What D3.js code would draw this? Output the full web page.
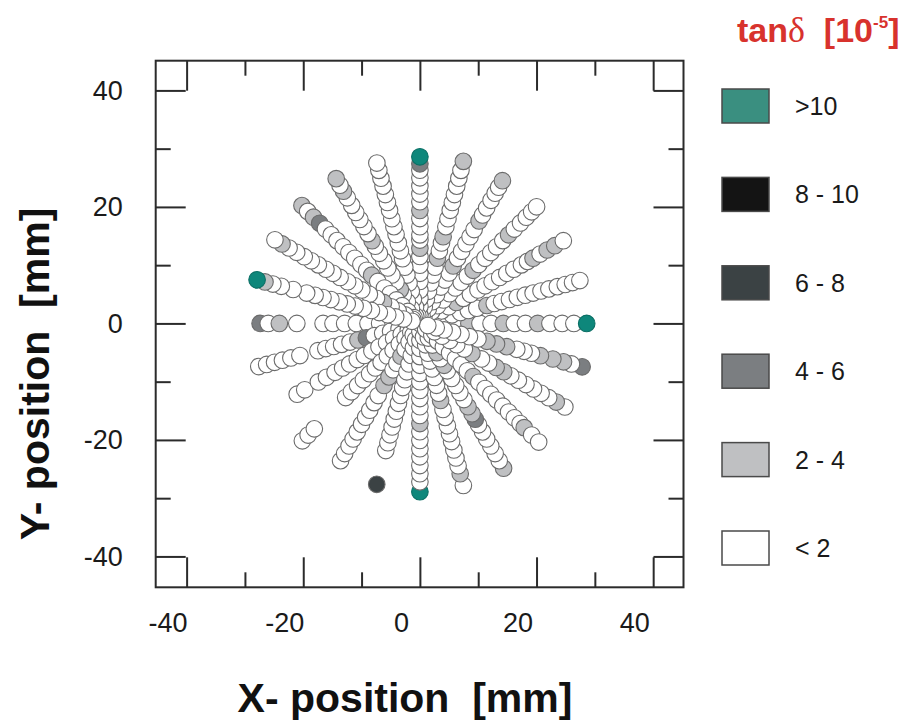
<!DOCTYPE html>
<html>
<head>
<meta charset="utf-8">
<script src="https://cdn.jsdelivr.net/npm/d3@7"></script>
<style>
  body { margin: 0; background: #fff; }
  svg { display: block; font-family: "Liberation Sans", Arial, sans-serif; }
</style>
</head>
<body>
<div id="chart"></div>
<script>
// scan lines through the centre: direction angle (deg) and positions along the line (mm)
const lineAngles = [0, 15, 30, 45, 60, 75, 90, 105, 120, 135, 150, 165];

const linePositions = [
  [-27.4, -26.0, -24.1, -21.1, -16.6, -14.9, -12.9, -10.9, -8.9, -6.9, -4.6, -2.3, 0.3, 2.2, 4.1, 6.2, 8.4, 10.3, 12.2, 14.3, 16.2, 18.1, 20.2, 22.3, 24.4, 26.4, 28.6],
  [-28.6, -27.2, -25.8, -24.4, -22.9, -21.3, -18.1, -16.7, -15.3, -13.9, -12.4, -11.0, -9.5, -8.1, -6.6, -5.2, -3.7, -2.3,
    1.4, 2.9, 4.3, 5.7, 7.2, 8.6, 10.1, 11.9, 13.2, 14.5, 15.9, 17.3, 18.7, 20.1, 21.5, 22.9, 24.4, 25.8, 27.1, 28.4],
  [-24.3, -22.8, -20.1, -18.5, -16.8, -15.3, -13.9, -12.4, -11.0, -9.5, -8.1, -6.6, -5.2, -3.7, -2.3,
    1.4, 2.9, 4.3, 5.7, 7.2, 8.6, 10.0, 11.5, 12.9, 14.3, 15.8, 17.2, 18.6, 20.1, 21.3, 22.4, 23.8, 25.2, 26.7, 28.4],
  [-28.5, -27.1, -25.6, -18.0, -16.6, -15.1, -13.7, -12.2, -10.8, -9.4, -7.9, -6.5, -5.0, -3.6, -2.2,
    1.4, 2.9, 4.3, 5.7, 7.2, 8.6, 10.0, 11.5, 12.9, 14.3, 15.8, 17.2, 18.6, 20.1, 21.5, 22.9, 24.4, 25.8, 27.1, 28.3],
  [-27.2, -25.8, -24.3, -22.9, -21.5, -20.0, -18.6, -17.2, -15.7, -14.3, -12.3, -10.6, -9.2, -7.9, -6.5, -5.1, -3.7, -2.3,
    1.4, 2.9, 4.3, 5.7, 7.2, 8.6, 10.0, 11.4, 12.9, 14.3, 15.8, 17.2, 18.6, 20.3, 21.5, 22.9, 24.4, 25.8, 27.0, 28.3],
  [-28.6, -22.6, -21.2, -19.8, -18.4, -17.0, -15.6, -14.2, -12.8, -11.4, -10.0, -8.6, -7.2, -5.7, -4.3, -2.9,
    1.4, 2.9, 4.3, 5.7, 7.2, 8.6, 10.0, 11.6, 12.9, 14.3, 15.4, 17.2, 18.6, 20.1, 21.5, 22.9, 24.4, 25.8, 27.2, 28.8],
  [-28.9, -27.2, -25.8, -24.4, -22.9, -21.5, -20.1, -18.6, -17.2, -15.8, -14.3, -12.9, -11.5, -10.0, -8.6, -7.2, -5.7, -4.3, -2.9, -1.4,
    0.0, 1.4, 2.9, 4.3, 5.7, 7.2, 8.6, 10.0, 11.5, 12.9, 14.3, 15.2, 16.6, 18.0, 19.4, 20.9, 22.2, 23.6, 25.0, 26.3, 27.4, 28.6],
  [-28.8, -26.7, -25.3, -23.9, -22.5, -21.0, -19.6, -18.2, -16.7, -15.3, -13.7, -12.4, -11.0, -9.6, -8.1, -6.7, -5.3, -3.8, -2.4,
    1.4, 2.9, 4.3, 5.7, 7.2, 8.6, 10.0, 11.5, 12.9, 14.3, 15.8, 17.2, 18.6, 20.1, 21.5, 22.9, 24.4, 25.8, 27.2, 28.5],
  [-28.7, -27.2, -25.8, -24.3, -22.9, -21.5, -20.1, -19.0, -17.9, -16.5, -15.1, -13.7, -12.3, -10.9, -9.4, -8.3, -7.0, -5.8, -4.3, -2.9,
    1.4, 2.9, 4.3, 5.7, 6.7, 8.2, 9.6, 11.0, 12.4, 13.9, 15.3, 16.4, 17.8, 19.2, 20.6, 22.0, 23.4, 24.9, 26.2, 27.4, 28.7],
  [28.6, 27.2, 25.8, 24.3, 22.9, 21.5, 20.1, 18.6, 17.2, 15.8, 14.3, 12.9, 11.7, 10.2, 8.6, 7.2, 5.7, 4.3, 2.9, 1.4,
    -1.4, -2.9, -4.3, -5.7, -7.2, -8.6, -10.0, -11.5, -12.9, -14.3, -15.8, -17.2, -18.6, -20.1, -21.5, -22.9, -24.3, -25.3, -27.1, -28.8],
  [-28.7, -27.0, -25.5, -24.0, -22.5, -21.0, -19.5, -18.0, -16.6, -15.1, -13.6, -12.2, -10.3, -8.8, -7.3, -5.9, -4.4, -2.9,
    1.4, 2.9, 4.3, 5.7, 7.2, 8.6, 10.0, 11.5, 12.9, 14.3, 15.8, 17.2, 18.6, 20.1, 21.5, 22.9, 24.4, 25.9, 27.3, 28.7],
  [-28.8, -26.9, -25.5, -23.6, -21.4, -19.8, -18.5, -17.2, -15.4, -13.6, -11.9, -10.3, -8.8, -7.3, -5.8, -4.3, -2.9, -1.4,
    1.4, 2.9, 4.3, 5.7, 7.2, 8.6, 10.0, 11.5, 12.9, 14.3, 15.8, 17.2, 18.6, 20.1, 22.5, 24.6, 26.1, 27.5, 28.9]
];

// tan delta class of each point: 0 "< 2", 1 "2 - 4", 2 "4 - 6", 3 "6 - 8", 4 "8 - 10", 5 ">10"
const lineClasses = [
  "201000000000000010010010005",
  "000000000001200000" + "00000001000000000000",
  "000000000000000" + "00001000000000010110",
  "000000000000000" + "00000000100000100000",
  "000000000011001000" + "00000001000001000001",
  "3000000000000000" + "00000001001000000001",
  "50000000100000000000" + "0000000001000010000025",
  "0100000000100000000" + "00000000000000000000",
  "10000002110000010100" + "000010000001000000101",
  "10120000000010000000" + "00000000100000000100",
  "010000001100100000" + "00001000000000000010",
  "201110001110000000" + "0000000000000000015"
];

const classLabels = ["< 2", "2 - 4", "4 - 6", "6 - 8", "8 - 10", ">10"];
const xTicks = [-40, -20, 0, 20, 40];
const xMinor = [-30, -10, 10, 30];
const yTicks = [-40, -20, 0, 20, 40];
const yMinor = [-30, -10, 10, 30];

const width = 907;
const height = 724;

const points = [];
lineAngles.forEach((a, i) => {
  const t = a * Math.PI / 180;
  linePositions[i].forEach((s, j) => {
    points.push({ x: s * Math.cos(t), y: s * Math.sin(t), c: +(lineClasses[i][j] || 0) });
  });
});

const svg = d3.select('#chart')
  .append('svg')
  .attr('width', width)
  .attr('height', height);

const x = d3.scaleLinear().domain([-45.3, 45.2]).range([155.7, 683.5]);
const y = d3.scaleLinear().domain([-45.3, 45.1]).range([587.3, 60.7]);

const color = d3.scaleOrdinal()
  .domain(d3.range(classLabels.length))
  .range(['#ffffff', '#bfc0c2', '#7b7e81', '#3b4244', '#141414', '#0e877b']);

// points
svg.append('g')
  .selectAll('circle')
  .data(points)
  .join('circle')
    .attr('cx', d => x(d.x))
    .attr('cy', d => y(d.y))
    .attr('r', 8.3)
    .attr('fill', d => color(d.c))
    .attr('stroke', d => d.c === 5 ? '#0b6f65' : '#6b6b6b')
    .attr('stroke-width', 1.1);

// frame and inward ticks
const x0 = x.range()[0], x1 = x.range()[1];
const y0 = y.range()[0], y1 = y.range()[1];

function ticks(axis, vals, size, tx, ty) {
  svg.append('g')
    .attr('transform', `translate(${tx},${ty})`)
    .call(axis.tickValues(vals).tickSizeInner(-size).tickSizeOuter(0).tickFormat(''))
    .call(g => g.select('.domain').remove())
    .call(g => g.selectAll('line').attr('stroke', '#2b2b2b').attr('stroke-width', 2));
}
ticks(d3.axisBottom(x), xTicks, 30, 0, y0);
ticks(d3.axisBottom(x), xMinor, 15, 0, y0);
ticks(d3.axisTop(x), xTicks, 30, 0, y1);
ticks(d3.axisTop(x), xMinor, 15, 0, y1);
ticks(d3.axisLeft(y), yTicks, 30, x0, 0);
ticks(d3.axisLeft(y), yMinor, 15, x0, 0);
ticks(d3.axisRight(y), yTicks, 30, x1, 0);
ticks(d3.axisRight(y), yMinor, 15, x1, 0);

svg.append('rect')
  .attr('x', x0).attr('y', y1)
  .attr('width', x1 - x0).attr('height', y0 - y1)
  .attr('fill', 'none')
  .attr('stroke', '#2b2b2b')
  .attr('stroke-width', 2);

// tick labels (plain hyphen for negatives, as in the original)
svg.append('g')
  .attr('transform', `translate(0,${y0})`)
  .call(d3.axisBottom(x).tickValues(xTicks).tickSize(0).tickPadding(26).tickFormat(d => String(d)))
  .call(g => g.select('.domain').remove())
  .call(g => g.selectAll('text')
    .attr('dx', -19)
    .attr('font-size', 27)
    .attr('font-family', '"Liberation Sans", Arial, sans-serif')
    .attr('fill', '#1a1a1a'));

svg.append('g')
  .attr('transform', `translate(${x0},0)`)
  .call(d3.axisLeft(y).tickValues(yTicks).tickSize(0).tickPadding(33).tickFormat(d => String(d)))
  .call(g => g.select('.domain').remove())
  .call(g => g.selectAll('text')
    .attr('font-size', 27)
    .attr('font-family', '"Liberation Sans", Arial, sans-serif')
    .attr('fill', '#1a1a1a'));

// axis titles
svg.append('text')
  .attr('x', 405).attr('y', 712)
  .attr('text-anchor', 'middle')
  .attr('font-size', 41).attr('font-weight', 'bold')
  .style('white-space', 'pre')
  .attr('fill', '#111')
  .text('X- position  [mm]');

svg.append('text')
  .attr('transform', 'translate(49,374) rotate(-90)')
  .attr('text-anchor', 'middle')
  .attr('font-size', 41).attr('font-weight', 'bold')
  .style('white-space', 'pre')
  .attr('fill', '#111')
  .text('Y- position  [mm]');

// legend
const title = svg.append('text')
  .attr('x', 737).attr('y', 42)
  .attr('fill', '#d8322d')
  .attr('font-size', 34).attr('font-weight', 'bold')
  .style('white-space', 'pre');
title.append('tspan').text('tan');
title.append('tspan').attr('font-family', '"Liberation Serif", serif')
  .attr('font-weight', 'normal').attr('font-size', 36).text('δ');
title.append('tspan').text('  [10');
title.append('tspan').attr('font-size', 17).attr('dy', -14).text('-5');
title.append('tspan').attr('dy', 14).text(']');

const legendOrder = d3.range(classLabels.length).reverse();
const ly = d3.scalePoint().domain(legendOrder).range([106, 548]);

const item = svg.append('g')
  .selectAll('g')
  .data(legendOrder)
  .join('g')
    .attr('transform', d => `translate(722,${ly(d)})`);

item.append('rect')
  .attr('x', 0).attr('y', -17)
  .attr('width', 47).attr('height', 34)
  .attr('fill', d => d === 5 ? '#3a8f80' : color(d))
  .attr('stroke', '#4a4a4a')
  .attr('stroke-width', 1.5);

item.append('text')
  .attr('x', 73).attr('y', 0).attr('dy', '0.36em')
  .attr('font-size', 25)
  .attr('fill', '#1a1a1a')
  .text(d => classLabels[d]);
</script>
</body>
</html>
